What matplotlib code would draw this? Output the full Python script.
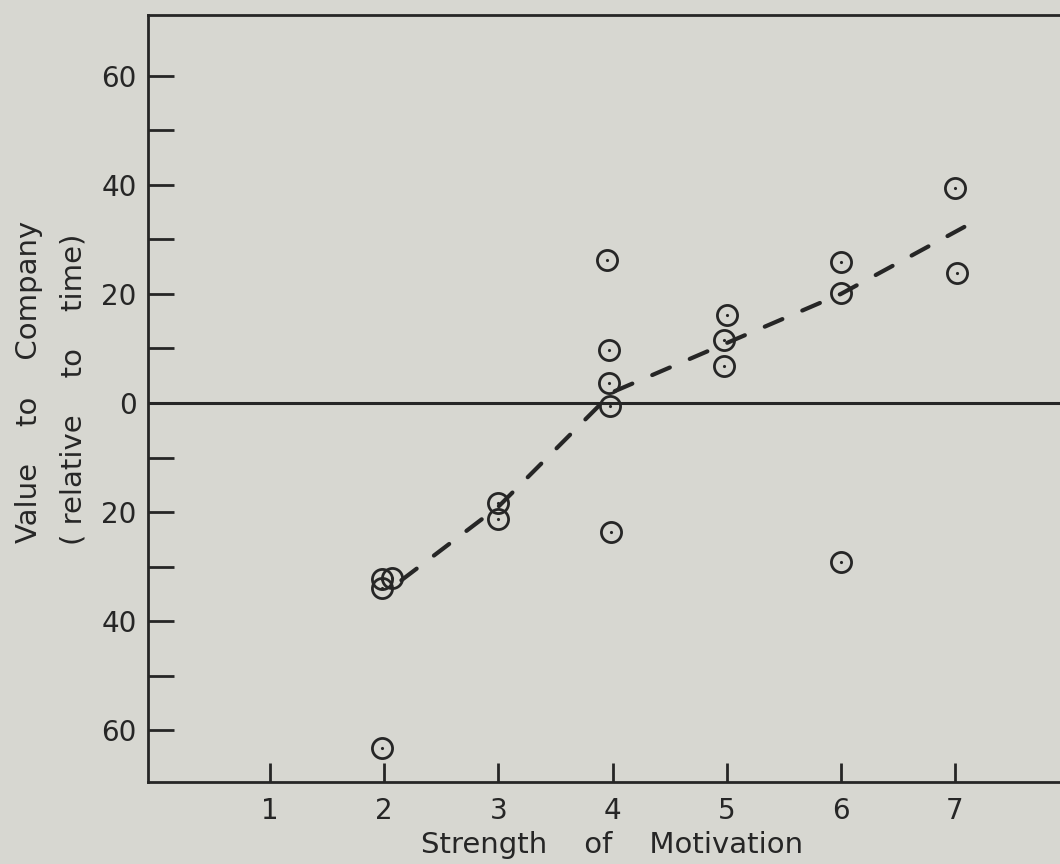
import numpy as np
import matplotlib.pyplot as plt

# data
motivation = [1.98, 2.07, 1.98, 1.98, 3.0, 3.0, 3.95, 3.97, 3.97, 3.98, 3.99,
              5.0, 4.98, 4.98, 6.0, 6.0, 6.0, 7.0, 7.02]
value = [-32.2, -32.0, -34.0, -63.3, -18.4, -21.2, 26.3, 9.8, 3.6, -0.6, -23.7,
         16.2, 11.6, 6.7, 25.9, 20.1, -29.2, 39.5, 23.9]

trend_x = [2.15, 3, 4, 5, 6, 7.1]
trend_y = [-32.5, -19, 2, 11, 20, 32.5]

ytick_vals = [60, 40, 20, 0, -20, -40, -60]
ytick_labels = ["60", "40", "20", "0", "20", "40", "60"]
xtick_vals = [1, 2, 3, 4, 5, 6, 7]
xtick_labels = ["1", "2", "3", "4", "5", "6", "7"]

bg = "#d7d7d1"
ink = "#262626"

plt.rcParams['font.family'] = ['DejaVu Sans']

fig = plt.figure(figsize=(10.6, 8.64), dpi=100, facecolor=bg)
ax = fig.add_axes([0.1396, 0.0949, 0.8604, 0.8880])
ax.set_facecolor(bg)

ax.set_xlim(-0.07, 7.92)
ax.set_ylim(-69.5, 71.2)

# zero reference line
ax.axhline(0, color=ink, lw=2.2, zorder=2)

# dashed trend
ax.plot(trend_x, trend_y, color=ink, lw=3.0, dashes=(4.6, 5.2),
        dash_capstyle='round', zorder=3)

# open circles with a dot in the middle
ax.plot(motivation, value, 'o', ms=14.5, mfc='none', mec=ink, mew=2.0, zorder=4)
ax.plot(motivation, value, '.', ms=2.5, color=ink, zorder=4)

ax.spines['right'].set_visible(False)
for s in ['left', 'top', 'bottom']:
    ax.spines[s].set_color(ink)
    ax.spines[s].set_linewidth(2.0)

ax.set_yticks(ytick_vals)
ax.set_yticklabels(ytick_labels)
ax.set_yticks([50, 30, 10, -10, -30, -50], minor=True)
ax.set_xticks(xtick_vals)
ax.set_xticklabels(xtick_labels)

ax.tick_params(axis='y', which='both', direction='in', length=19, width=2.0,
               color=ink, labelsize=20, labelcolor=ink, pad=8)
ax.tick_params(axis='x', direction='in', length=14, width=2.0, color=ink,
               labelsize=20, labelcolor=ink, pad=11)

# axis titles, placed like the typewritten originals
fig.text(0.027, 0.558, "Value    to    Company", rotation=90, ha='center',
         va='center', fontsize=21, color=ink)
fig.text(0.069, 0.549, "( relative    to    time)", rotation=90, ha='center',
         va='center', fontsize=21, color=ink)
fig.text(0.577, 0.022, "Strength    of    Motivation", ha='center',
         va='center', fontsize=21, color=ink)

plt.savefig('out.png', dpi=100, facecolor=bg)
